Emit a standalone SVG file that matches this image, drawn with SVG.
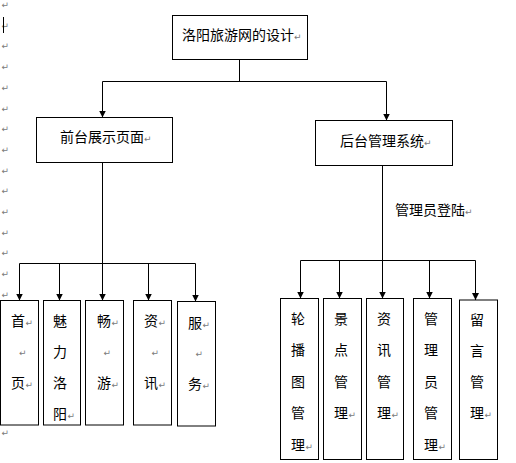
<svg xmlns="http://www.w3.org/2000/svg" width="516" height="463" viewBox="0 0 516 463">
<style>
  .box{fill:#fff;stroke:#000;stroke-width:1}
  .ln{fill:none;stroke:#000;stroke-width:1}
  .t{font-family:"Noto Sans CJK SC","Liberation Sans",sans-serif;font-size:14px;fill:#000}
  .pm{font-family:"DejaVu Sans",sans-serif;font-size:9px;fill:#7a7a7a}
</style>
<defs>
  <marker id="ah" markerUnits="userSpaceOnUse" markerWidth="8" markerHeight="7" refX="7" refY="3.5" orient="auto">
    <path d="M0,0 L7,3.5 L0,7 Z" fill="#000"/>
  </marker>
</defs>
<rect x="0" y="0" width="516" height="463" fill="#fff"/>

<g id="margin-marks">
  <text class="pm" x="1.5" y="8">↵</text>
  <text class="pm" x="1.5" y="28.7">↵</text>
  <text class="pm" x="1.5" y="49.4">↵</text>
  <text class="pm" x="1.5" y="70.1">↵</text>
  <text class="pm" x="1.5" y="90.8">↵</text>
  <text class="pm" x="1.5" y="111.5">↵</text>
  <text class="pm" x="1.5" y="132.2">↵</text>
  <text class="pm" x="1.5" y="152.9">↵</text>
  <text class="pm" x="1.5" y="173.6">↵</text>
  <text class="pm" x="1.5" y="194.3">↵</text>
  <text class="pm" x="1.5" y="215">↵</text>
  <text class="pm" x="1.5" y="235.7">↵</text>
  <text class="pm" x="1.5" y="256.4">↵</text>
  <text class="pm" x="1.5" y="277.1">↵</text>
  <text class="pm" x="1.5" y="297.8">↵</text>
  <text class="pm" x="1.5" y="436">↵</text>
  <line x1="3.5" y1="17" x2="3.5" y2="33" stroke="#000" stroke-width="1"/>
</g>

<g id="connectors">
  <line class="ln" x1="239.5" y1="59.5" x2="239.5" y2="81.5"/>
  <line class="ln" x1="102.5" y1="81.5" x2="386.5" y2="81.5"/>
  <line class="ln" x1="102.5" y1="81.5" x2="102.5" y2="117.5" marker-end="url(#ah)"/>
  <line class="ln" x1="386.5" y1="81.5" x2="386.5" y2="120.5" marker-end="url(#ah)"/>

  <line class="ln" x1="102.5" y1="162.5" x2="102.5" y2="263.5"/>
  <line class="ln" x1="19.5" y1="263.5" x2="195.5" y2="263.5"/>
  <line class="ln" x1="19.5" y1="263.5" x2="19.5" y2="300.5" marker-end="url(#ah)"/>
  <line class="ln" x1="59.5" y1="263.5" x2="59.5" y2="300.5" marker-end="url(#ah)"/>
  <line class="ln" x1="102.5" y1="263.5" x2="102.5" y2="300.5" marker-end="url(#ah)"/>
  <line class="ln" x1="148.5" y1="263.5" x2="148.5" y2="300.5" marker-end="url(#ah)"/>
  <line class="ln" x1="195.5" y1="263.5" x2="195.5" y2="301.5" marker-end="url(#ah)"/>

  <line class="ln" x1="382.5" y1="165.5" x2="382.5" y2="260.5"/>
  <line class="ln" x1="300.5" y1="260.5" x2="475.5" y2="260.5"/>
  <line class="ln" x1="300.5" y1="260.5" x2="300.5" y2="298.5" marker-end="url(#ah)"/>
  <line class="ln" x1="339.5" y1="260.5" x2="339.5" y2="298.5" marker-end="url(#ah)"/>
  <line class="ln" x1="382.5" y1="260.5" x2="382.5" y2="298.5" marker-end="url(#ah)"/>
  <line class="ln" x1="429.5" y1="260.5" x2="429.5" y2="298.5" marker-end="url(#ah)"/>
  <line class="ln" x1="475.5" y1="260.5" x2="475.5" y2="300" marker-end="url(#ah)"/>

  <text class="t" x="395" y="215">管理员登陆</text>
  <text class="pm" x="465" y="215">↵</text>
</g>

<g id="root">
  <rect class="box" x="172.5" y="15.5" width="135" height="44"/>
  <text class="t" x="182" y="40">洛阳旅游网的设计</text>
  <text class="pm" x="294" y="40">↵</text>
</g>

<g id="front">
  <rect class="box" x="36.5" y="117.5" width="136" height="45"/>
  <text class="t" x="60" y="142">前台展示页面</text>
  <text class="pm" x="144" y="142">↵</text>
</g>

<g id="back">
  <rect class="box" x="315.5" y="120.5" width="137" height="45"/>
  <text class="t" x="340" y="146">后台管理系统</text>
  <text class="pm" x="424" y="146">↵</text>
</g>

<g id="f-home">
  <rect class="box" x="0.5" y="300.5" width="38" height="124.5"/>
  <text class="t" x="11" y="326">首</text><text class="pm" x="25.5" y="326">↵</text>
  <text class="pm" x="19" y="356">↵</text>
  <text class="t" x="11" y="388">页</text><text class="pm" x="25.5" y="388">↵</text>
</g>

<g id="f-charm">
  <rect class="box" x="43.5" y="300.5" width="37" height="124.5"/>
  <text class="t" x="53" y="326">魅</text>
  <text class="t" x="53" y="357">力</text>
  <text class="t" x="53" y="388">洛</text>
  <text class="t" x="53" y="419">阳</text><text class="pm" x="67.5" y="419">↵</text>
</g>

<g id="f-tour">
  <rect class="box" x="85.5" y="300.5" width="38" height="124.5"/>
  <text class="t" x="97" y="326">畅</text><text class="pm" x="111.5" y="326">↵</text>
  <text class="pm" x="103.5" y="356">↵</text>
  <text class="t" x="97" y="388">游</text><text class="pm" x="111.5" y="388">↵</text>
</g>

<g id="f-news">
  <rect class="box" x="133.5" y="300.5" width="38" height="124.5"/>
  <text class="t" x="144" y="326">资</text><text class="pm" x="158.5" y="326">↵</text>
  <text class="pm" x="151.5" y="356">↵</text>
  <text class="t" x="144" y="388">讯</text><text class="pm" x="158.5" y="388">↵</text>
</g>

<g id="f-service">
  <rect class="box" x="177.5" y="301.5" width="38" height="124.5"/>
  <text class="t" x="188" y="328">服</text><text class="pm" x="202.5" y="328">↵</text>
  <text class="pm" x="195.5" y="357">↵</text>
  <text class="t" x="188" y="389">务</text><text class="pm" x="202.5" y="389">↵</text>
</g>

<g id="b-carousel">
  <rect class="box" x="280.5" y="298.5" width="38" height="161"/>
  <text class="t" x="291" y="324">轮</text>
  <text class="t" x="291" y="355">播</text>
  <text class="t" x="291" y="387">图</text>
  <text class="t" x="291" y="418">管</text>
  <text class="t" x="291" y="450">理</text><text class="pm" x="305.5" y="450">↵</text>
</g>

<g id="b-spots">
  <rect class="box" x="323.5" y="298.5" width="38" height="161"/>
  <text class="t" x="334" y="324">景</text>
  <text class="t" x="334" y="355">点</text>
  <text class="t" x="334" y="387">管</text>
  <text class="t" x="334" y="418">理</text><text class="pm" x="348.5" y="418">↵</text>
</g>

<g id="b-news">
  <rect class="box" x="366.5" y="298.5" width="37" height="161"/>
  <text class="t" x="377" y="324">资</text>
  <text class="t" x="377" y="355">讯</text>
  <text class="t" x="377" y="387">管</text>
  <text class="t" x="377" y="418">理</text><text class="pm" x="391.5" y="418">↵</text>
</g>

<g id="b-admins">
  <rect class="box" x="413.5" y="298.5" width="38" height="161"/>
  <text class="t" x="424" y="324">管</text>
  <text class="t" x="424" y="355">理</text>
  <text class="t" x="424" y="387">员</text>
  <text class="t" x="424" y="418">管</text>
  <text class="t" x="424" y="450">理</text><text class="pm" x="438.5" y="450">↵</text>
</g>

<g id="b-messages">
  <rect class="box" x="459.5" y="300" width="38" height="159.5"/>
  <text class="t" x="470" y="325">留</text>
  <text class="t" x="470" y="356">言</text>
  <text class="t" x="470" y="387">管</text>
  <text class="t" x="470" y="418">理</text><text class="pm" x="484.5" y="418">↵</text>
</g>
</svg>
